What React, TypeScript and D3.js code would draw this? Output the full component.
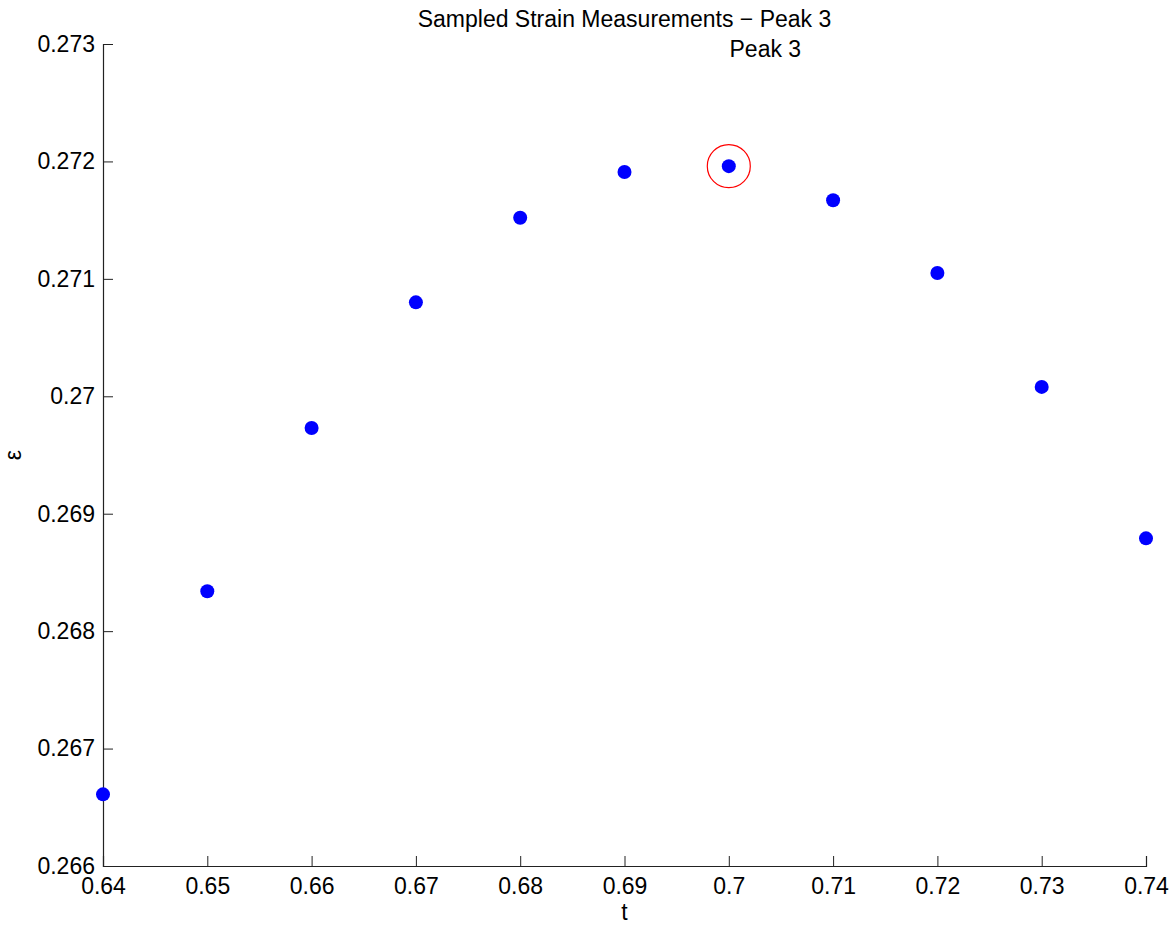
import React, { useEffect, useRef } from 'react';
import * as d3 from 'd3';

// sampled strain around the third peak
const times = [0.64, 0.65, 0.66, 0.67, 0.68, 0.69, 0.7, 0.71, 0.72, 0.73, 0.74];
const strain = [0.26661, 0.26834, 0.26973, 0.27080, 0.27152, 0.27191, 0.27196, 0.27167, 0.27105, 0.27008, 0.26879];
const xTicks = [0.64, 0.65, 0.66, 0.67, 0.68, 0.69, 0.7, 0.71, 0.72, 0.73, 0.74];
const yTicks = [0.266, 0.267, 0.268, 0.269, 0.27, 0.271, 0.272, 0.273];
const peakIndex = 6;

const width = 1173;
const height = 926;
const margin = { top: 44, right: 27, bottom: 60, left: 103 };
const font = '"Liberation Sans", Arial, Helvetica, sans-serif';
const fontSize = '23px';

export default function App() {
  const ref = useRef<SVGSVGElement>(null);

  useEffect(() => {
    const svg = d3.select(ref.current);
    svg.selectAll('*').remove();

    const x = d3.scaleLinear().domain([0.64, 0.74]).range([margin.left, width - margin.right]);
    const y = d3.scaleLinear().domain([0.266, 0.273]).range([height - margin.bottom, margin.top]);

    const xAxis = d3.axisBottom(x)
      .tickValues(xTicks)
      .tickSize(-10)
      .tickPadding(12)
      .tickFormat((d) => String(+d));
    const yAxis = d3.axisLeft(y)
      .tickValues(yTicks)
      .tickSize(-10)
      .tickPadding(8)
      .tickFormat((d) => String(+d));

    const gx = svg.append('g')
      .attr('transform', `translate(0,${height - margin.bottom})`)
      .call(xAxis);
    const gy = svg.append('g')
      .attr('transform', `translate(${margin.left},0)`)
      .call(yAxis);

    [gx, gy].forEach((g) => {
      g.select('.domain').attr('stroke', '#222').attr('stroke-width', 1.2);
      g.selectAll('.tick line').attr('stroke', '#222').attr('stroke-width', 1);
      g.selectAll('.tick text')
        .attr('fill', '#000')
        .style('font-family', font)
        .style('font-size', fontSize);
    });

    svg.append('g')
      .selectAll('circle')
      .data(times)
      .enter()
      .append('circle')
      .attr('cx', (d) => x(d))
      .attr('cy', (d, i) => y(strain[i]))
      .attr('r', 7)
      .attr('fill', '#0000ff');

    svg.append('circle')
      .attr('cx', x(times[peakIndex]))
      .attr('cy', y(strain[peakIndex]))
      .attr('r', 21.5)
      .attr('fill', 'none')
      .attr('stroke', '#ff0000')
      .attr('stroke-width', 1.2);

    svg.append('text')
      .attr('x', (margin.left + width - margin.right) / 2)
      .attr('y', 27)
      .attr('text-anchor', 'middle')
      .style('font-family', font)
      .style('font-size', fontSize)
      .text('Sampled Strain Measurements \u2212 Peak 3');

    svg.append('text')
      .attr('x', x(0.7035))
      .attr('y', 57)
      .attr('text-anchor', 'middle')
      .style('font-family', font)
      .style('font-size', fontSize)
      .text('Peak 3');

    svg.append('text')
      .attr('x', (margin.left + width - margin.right) / 2)
      .attr('y', 920)
      .attr('text-anchor', 'middle')
      .style('font-family', font)
      .style('font-size', fontSize)
      .text('t');

    svg.append('text')
      .attr('transform', `translate(21,${(margin.top + height - margin.bottom) / 2}) rotate(-90)`)
      .attr('text-anchor', 'middle')
      .style('font-family', font)
      .style('font-size', fontSize)
      .text('\u03b5');
  }, []);

  return (
    <svg ref={ref} width={width} height={height} style={{ display: 'block', position: 'absolute', left: 0, top: 0, background: '#fff' }} />
  );
}
